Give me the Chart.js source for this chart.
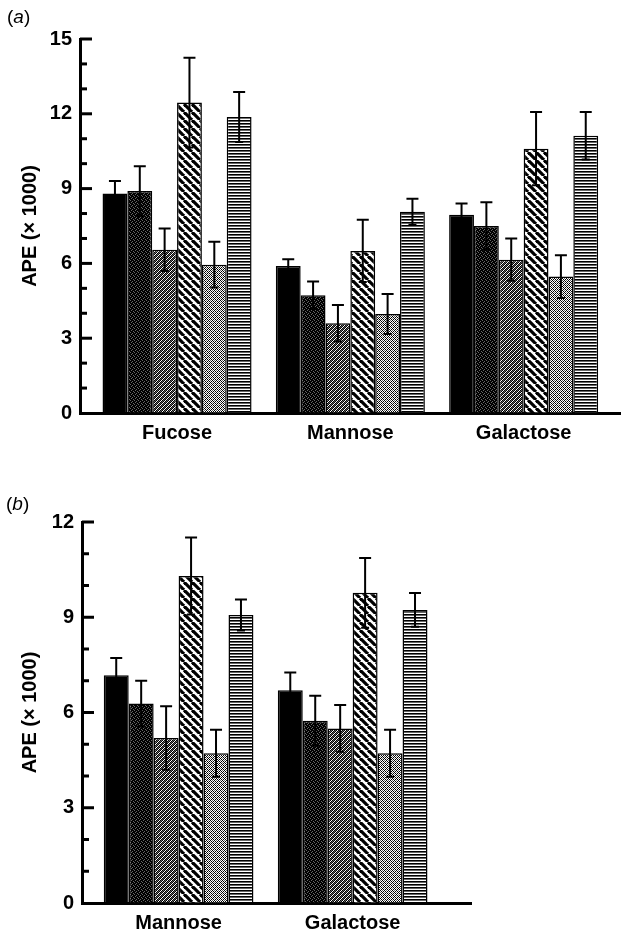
<!DOCTYPE html>
<html>
<head>
<meta charset="utf-8">
<script src="https://cdn.jsdelivr.net/npm/chart.js@4.4.1/dist/chart.umd.min.js"></script>
<style>
  body { margin: 0; background: #fff; }
  #wrap { position: relative; width: 621px; height: 939px; }
  canvas { position: absolute; left: 0; }
  #chartA { top: 0; }
  #chartB { top: 470px; }
  .plabel { position: absolute; z-index: 2; font: 19px 'Liberation Sans', Arial, sans-serif; color: #000; }
</style>
</head>
<body>
<div id="wrap">
  <canvas id="chartA" width="621" height="470"></canvas>
  <canvas id="chartB" width="621" height="469"></canvas>
  <div class="plabel" style="left:7px;top:6px">(<i>a</i>)</div>
  <div class="plabel" style="left:6px;top:493px">(<i>b</i>)</div>
</div>
<script>
// Panel (a) data
const sugarsA = ['Fucose', 'Mannose', 'Galactose'];
const a1 = [8.8, 5.9, 7.95];
const a2 = [8.9, 4.72, 7.5];
const a3 = [6.55, 3.6, 6.15];
const a4 = [12.45, 6.5, 10.6];
const a5 = [5.95, 3.97, 5.47];
const a6 = [11.87, 8.07, 11.12];
const a1Err = [0.5, 0.27, 0.45];
const a2Err = [1.0, 0.55, 0.95];
const a3Err = [0.85, 0.73, 0.85];
const a4Err = [1.8, 1.25, 1.47];
const a5Err = [0.92, 0.8, 0.86];
const a6Err = [1.0, 0.52, 0.95];

// Panel (b) data
const sugarsB = ['Mannose', 'Galactose'];
const b1 = [7.17, 6.7];
const b2 = [6.28, 5.74];
const b3 = [5.2, 5.5];
const b4 = [10.3, 9.77];
const b5 = [4.72, 4.72];
const b6 = [9.07, 9.23];
const b1Err = [0.55, 0.56];
const b2Err = [0.72, 0.79];
const b3Err = [1.0, 0.74];
const b4Err = [1.21, 1.1];
const b5Err = [0.74, 0.74];
const b6Err = [0.49, 0.53];

const ticksA = [0, 3, 6, 9, 12, 15];
const ticksB = [0, 3, 6, 9, 12];

// Fill patterns for the six bars
function pixelPattern(rows) {
  const c = document.createElement('canvas');
  c.width = rows[0].length; c.height = rows.length;
  const g = c.getContext('2d');
  g.fillStyle = '#fff'; g.fillRect(0, 0, c.width, c.height);
  rows.forEach((r, y) => {
    for (let x = 0; x < r.length; x++) {
      if (r[x] !== '0') { g.fillStyle = r[x] === '1' ? '#000' : '#666'; g.fillRect(x, y, 1, 1); }
    }
  });
  return g.createPattern(c, 'repeat');
}
function hatchPattern() {
  const c = document.createElement('canvas');
  c.width = 8; c.height = 8;
  const g = c.getContext('2d');
  g.fillStyle = '#fff'; g.fillRect(0, 0, 8, 8);
  g.strokeStyle = '#000'; g.lineWidth = 3.2;
  [-8, 0, 8].forEach(k => { g.beginPath(); g.moveTo(k, 0); g.lineTo(k + 8, 8); g.stroke(); });
  return g.createPattern(c, 'repeat');
}

const fills = [
  '#000',
  pixelPattern(['1121', '2111', '1112', '1211']),
  pixelPattern(['1012', '0121', '1210', '2101']),
  hatchPattern(),
  pixelPattern(['1020', '0101', '2010', '0101']),
  pixelPattern(['1', '2', '0'])
];

const txtFont = { family: "'Liberation Sans', Arial, sans-serif", weight: 'bold' };

// inward major / minor ticks on the y axis
const axisTicks = {
  id: 'axisTicks',
  afterDraw(chart) {
    const y = chart.scales.y, ctx = chart.ctx, left = chart.chartArea.left;
    ctx.save();
    ctx.strokeStyle = '#000';
    ctx.lineWidth = 3;
    for (let v = y.min + 1; v <= y.max; v++) {
      const py = y.getPixelForValue(v);
      ctx.beginPath();
      ctx.moveTo(left, py);
      ctx.lineTo(left + (v % 3 === 0 ? 12 : 7), py);
      ctx.stroke();
    }
    ctx.restore();
  }
};

// error bars
const errorBars = {
  id: 'errorBars',
  afterDatasetsDraw(chart) {
    const ctx = chart.ctx, y = chart.scales.y;
    ctx.save();
    ctx.strokeStyle = '#000';
    ctx.lineWidth = 2;
    chart.data.datasets.forEach((ds, di) => {
      chart.getDatasetMeta(di).data.forEach((bar, i) => {
        const v = ds.data[i].y, e = ds.errors[i];
        const top = y.getPixelForValue(v + e), bot = y.getPixelForValue(v - e);
        ctx.beginPath();
        ctx.moveTo(bar.x, top); ctx.lineTo(bar.x, bot);
        ctx.moveTo(bar.x - 6, top); ctx.lineTo(bar.x + 6, top);
        ctx.moveTo(bar.x - 4, bot); ctx.lineTo(bar.x + 4, bot);
        ctx.stroke();
      });
    });
    ctx.restore();
  }
};

function drawPanel(id, labels, series, errors, majorTicks, o) {
  const datasets = series.map((vals, s) => ({
    data: vals.map((v, i) => ({ x: i, y: v })),
    errors: errors[s],
    backgroundColor: fills[s],
    borderColor: '#000',
    borderWidth: 1.5,
    categoryPercentage: 0.86,
    barPercentage: 1.0
  }));

  new Chart(document.getElementById(id), {
    type: 'bar',
    data: { datasets: datasets },
    options: {
      responsive: false,
      animation: false,
      devicePixelRatio: 1,
      layout: { padding: { left: 0, top: o.top, right: o.right, bottom: 0 } },
      plugins: { legend: { display: false }, tooltip: { enabled: false } },
      scales: {
        x: {
          type: 'linear',
          min: o.xMin,
          max: o.xMax,
          offset: false,
          grid: { display: true, drawOnChartArea: false, drawTicks: false },
          border: { display: true, color: '#000', width: 3 },
          afterBuildTicks: (s) => { s.ticks = labels.map((l, i) => ({ value: i })); },
          afterFit: (s) => { s.height = o.xHeight; },
          ticks: {
            callback: (v, i) => labels[i],
            color: '#000',
            font: Object.assign({ size: 20 }, txtFont),
            padding: 8,
            maxRotation: 0,
            autoSkip: false
          }
        },
        y: {
          min: 0,
          max: majorTicks[majorTicks.length - 1],
          afterBuildTicks: (s) => { s.ticks = majorTicks.map(v => ({ value: v })); },
          afterFit: (s) => { s.width = o.yWidth; },
          grid: { display: true, drawOnChartArea: false, drawTicks: false },
          border: { display: true, color: '#000', width: 3 },
          ticks: { color: '#000', font: Object.assign({ size: 20 }, txtFont), padding: 8 },
          title: {
            display: true,
            text: 'APE (× 1000)',
            color: '#000',
            font: Object.assign({ size: 20 }, txtFont),
            padding: { top: 18, bottom: 0 }
          }
        }
      }
    },
    plugins: [axisTicks, errorBars]
  });
}

drawPanel('chartA', sugarsA,
  [a1, a2, a3, a4, a5, a6],
  [a1Err, a2Err, a3Err, a4Err, a5Err, a6Err],
  ticksA,
  { top: 39, right: 1, xMin: -0.56, xMax: 2.556, xHeight: 57, yWidth: 80 });

drawPanel('chartB', sugarsB,
  [b1, b2, b3, b4, b5, b6],
  [b1Err, b2Err, b3Err, b4Err, b5Err, b6Err],
  ticksB,
  { top: 52, right: 150, xMin: -0.555, xMax: 1.68, xHeight: 36, yWidth: 82 });
</script>
</body>
</html>
